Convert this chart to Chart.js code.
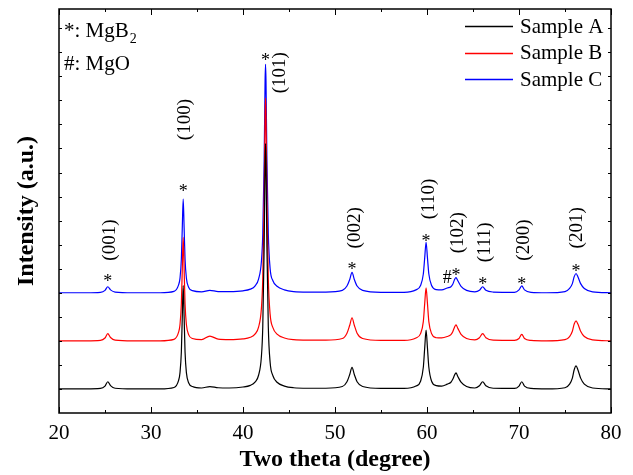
<!DOCTYPE html>
<html>
<head>
<meta charset="utf-8">
<script src="https://cdn.jsdelivr.net/npm/chart.js@4.4.1/dist/chart.umd.min.js"></script>
<style>
  html, body { margin: 0; padding: 0; background: #fff; }
  #wrap { width: 633px; height: 475px; }
</style>
</head>
<body>
<div id="wrap"><canvas id="c" width="633" height="475"></canvas></div>
<script>
// ---- data (2θ in degrees, intensity in arbitrary offset units) ----
const twoTheta = [
  20, 23, 24.5, 25.0, 25.3, 25.6, 26.1, 28,
  31, 32.5, 33.0, 33.15, 33.3, 33.4, 33.5, 33.6, 33.7, 33.85, 34.1, 34.5,
  35.5, 36.4, 37.3, 38.5,
  40, 40.8, 41.3, 41.7, 42.0, 42.15, 42.3, 42.4, 42.45, 42.5, 42.6, 42.75, 42.95, 43.25, 43.7, 44.5, 45.5,
  47, 49, 50.8, 51.3, 51.6, 51.85, 52.1, 52.4, 53, 55,
  57.5, 58.8, 59.3, 59.6, 59.75, 59.9, 60.05, 60.2, 60.5, 61,
  61.6, 62.2, 62.6, 62.8, 63.0, 63.15, 63.35, 63.7, 64.3,
  65.2, 65.7, 66.05, 66.4, 67.2,
  69.5, 70.0, 70.3, 70.6, 71.3,
  73, 75, 75.5, 75.8, 76.0, 76.2, 76.4, 76.7, 77.1, 78, 80
];
const sampleA = [
  1.0, 1.0, 1.02, 1.12, 1.30, 1.14, 1.03, 1.0,
  1.0, 1.06, 1.36, 1.67, 2.55, 4.0, 5.3, 4.0, 2.55, 1.67, 1.25, 1.1,
  1.04, 1.1, 1.05, 1.04,
  1.08, 1.15, 1.28, 1.58, 2.35, 3.6, 6.9, 10.4, 11.2, 10.4, 6.9, 3.6, 2.1, 1.55, 1.28, 1.12, 1.05,
  1.03, 1.03, 1.1, 1.3, 1.6, 1.9, 1.6, 1.3, 1.1, 1.02,
  1.02, 1.12, 1.32, 1.9, 2.7, 3.45, 2.7, 1.9, 1.32, 1.14,
  1.12, 1.2, 1.28, 1.4, 1.58, 1.67, 1.52, 1.28, 1.1,
  1.04, 1.13, 1.3, 1.13, 1.03,
  1.02, 1.12, 1.3, 1.12, 1.02,
  1.0, 1.05, 1.2, 1.45, 1.8, 1.96, 1.8, 1.45, 1.2, 1.04, 1.0
];
const sampleB = [
  3.0, 3.0, 3.02, 3.12, 3.30, 3.14, 3.03, 3.0,
  3.0, 3.06, 3.36, 3.67, 4.55, 6.0, 7.3, 6.0, 4.55, 3.67, 3.25, 3.1,
  3.05, 3.2, 3.07, 3.05,
  3.08, 3.15, 3.28, 3.58, 4.35, 5.6, 8.85, 12.35, 13.1, 12.35, 8.85, 5.6, 4.1, 3.55, 3.28, 3.12, 3.05,
  3.03, 3.03, 3.1, 3.32, 3.65, 3.96, 3.65, 3.32, 3.1, 3.02,
  3.02, 3.12, 3.3, 3.8, 4.55, 5.2, 4.55, 3.8, 3.3, 3.13,
  3.12, 3.18, 3.26, 3.38, 3.58, 3.67, 3.52, 3.27, 3.1,
  3.04, 3.13, 3.3, 3.13, 3.03,
  3.02, 3.1, 3.27, 3.1, 3.02,
  3.0, 3.05, 3.18, 3.4, 3.7, 3.83, 3.7, 3.4, 3.18, 3.04, 3.0
];
const sampleC = [
  5.0, 5.0, 5.02, 5.1, 5.25, 5.12, 5.03, 5.0,
  5.0, 5.06, 5.33, 5.6, 6.4, 7.7, 8.9, 7.7, 6.4, 5.6, 5.22, 5.09,
  5.04, 5.1, 5.05, 5.05,
  5.08, 5.15, 5.28, 5.58, 6.3, 7.45, 10.5, 13.8, 14.5, 13.8, 10.5, 7.45, 6.0, 5.5, 5.27, 5.12, 5.05,
  5.03, 5.03, 5.1, 5.28, 5.55, 5.85, 5.55, 5.28, 5.1, 5.02,
  5.02, 5.12, 5.3, 5.78, 6.45, 7.1, 6.45, 5.78, 5.3, 5.13,
  5.12, 5.2, 5.25, 5.35, 5.55, 5.63, 5.5, 5.27, 5.1,
  5.04, 5.1, 5.25, 5.1, 5.03,
  5.02, 5.12, 5.29, 5.12, 5.02,
  5.0, 5.05, 5.18, 5.38, 5.67, 5.8, 5.67, 5.38, 5.18, 5.04, 5.0
];
const seriesNames = ['Sample A', 'Sample B', 'Sample C'];
const seriesColors = ['#000000', '#ff0000', '#0000ff'];
const xTickLabels = ['20', '30', '40', '50', '60', '70', '80'];

// peak annotations (Miller indices, marker positions in data units)
const hklLabels = ['(001)', '(100)', '(101)', '(002)', '(110)', '(102)', '(111)', '(200)', '(201)'];
const hklX      = [25.55, 33.75, 44.0, 52.2, 60.2, 63.4, 66.3, 70.5, 76.3];
const hklY      = [7.19, 12.2, 14.15, 7.7, 8.9, 7.5, 7.1, 7.19, 7.7];
const starX     = [25.3, 33.5, 42.45, 51.85, 59.9, 63.15, 66.05, 70.3, 76.2];
const starY     = [5.6, 9.35, 14.8, 6.1, 7.27, 5.85, 5.48, 5.48, 6.0];
const hashX     = [62.2];
const hashY     = [5.6];

const SERIF = '"Liberation Serif", "Times New Roman", serif';

const datasets = [sampleA, sampleB, sampleC].map((vals, i) => ({
  label: seriesNames[i],
  data: twoTheta.map((t, k) => ({ x: t, y: vals[k] })),
  borderColor: seriesColors[i],
  borderWidth: 1.2,
  pointRadius: 0,
  fill: false,
  cubicInterpolationMode: 'monotone'
}));

const decor = {
  id: 'decor',
  afterDatasetsDraw(chart) {
    const ctx = chart.ctx;
    const xs = chart.scales.x, ys = chart.scales.y;
    const a = chart.chartArea;
    ctx.save();
    ctx.fillStyle = '#000';
    ctx.strokeStyle = '#000';

    // frame
    ctx.lineWidth = 1.5;
    ctx.strokeRect(a.left, a.top, a.right - a.left, a.bottom - a.top);

    // inward ticks
    ctx.lineWidth = 1;
    ctx.beginPath();
    for (let v = 20; v <= 80; v += 5) {
      const px = Math.round(xs.getPixelForValue(v)) + 0.5;
      const len = (v % 10 === 0) ? 6 : 3;
      ctx.moveTo(px, a.bottom); ctx.lineTo(px, a.bottom - len);
      ctx.moveTo(px, a.top); ctx.lineTo(px, a.top + len);
    }
    for (let v = 1; v <= 16; v += 1) {
      const py = Math.round(ys.getPixelForValue(v)) + 0.5;
      ctx.moveTo(a.left, py); ctx.lineTo(a.left + 3, py);
      ctx.moveTo(a.right, py); ctx.lineTo(a.right - 3, py);
    }
    ctx.stroke();

    // hkl labels (rotated)
    ctx.font = '19px ' + SERIF;
    ctx.textAlign = 'center';
    ctx.textBaseline = 'middle';
    hklLabels.forEach((t, i) => {
      ctx.save();
      ctx.translate(xs.getPixelForValue(hklX[i]), ys.getPixelForValue(hklY[i]));
      ctx.rotate(-Math.PI / 2);
      ctx.fillText(t, 0, 0);
      ctx.restore();
    });
    // phase markers
    ctx.font = '18px ' + SERIF;
    starX.forEach((x, i) => {
      ctx.fillText('*', xs.getPixelForValue(x), ys.getPixelForValue(starY[i]) + 4);
    });
    hashX.forEach((x, i) => {
      ctx.fillText('#', xs.getPixelForValue(x), ys.getPixelForValue(hashY[i]));
    });

    // phase key (top-left)
    ctx.textAlign = 'left';
    ctx.textBaseline = 'alphabetic';
    ctx.font = '21px ' + SERIF;
    const kx = a.left + 5;
    ctx.fillText('*: MgB', kx, a.top + 28);
    const w = ctx.measureText('*: MgB').width;
    ctx.font = '14px ' + SERIF;
    ctx.fillText('2', kx + w + 1, a.top + 34);
    ctx.font = '21px ' + SERIF;
    ctx.fillText('#: MgO', kx, a.top + 61);

    // series legend (top-right)
    ctx.textBaseline = 'middle';
    seriesNames.forEach((name, i) => {
      const y = a.top + 17 + i * 26.5;
      ctx.strokeStyle = seriesColors[i];
      ctx.lineWidth = 1.3;
      ctx.beginPath();
      ctx.moveTo(465, Math.round(y) + 0.5); ctx.lineTo(513, Math.round(y) + 0.5);
      ctx.stroke();
      ctx.fillStyle = '#000';
      ctx.font = '21px ' + SERIF;
      ctx.fillText(name, 520, y + 1);
    });
    ctx.restore();
  }
};

new Chart(document.getElementById('c'), {
  type: 'line',
  data: { datasets },
  options: {
    responsive: false,
    devicePixelRatio: 1,
    animation: false,
    layout: { padding: { top: 9, right: 22, left: 0, bottom: 0 } },
    plugins: { legend: { display: false }, tooltip: { enabled: false } },
    scales: {
      x: {
        type: 'linear',
        min: 20, max: 80,
        grid: { display: false, drawTicks: false },
        border: { display: false },
        ticks: {
          stepSize: 10,
          padding: 8,
          color: '#000',
          font: { family: SERIF, size: 21 },
          maxRotation: 0,
          callback: (v) => xTickLabels.includes(String(v)) ? String(v) : ''
        },
        title: {
          display: true,
          text: 'Two theta (degree)',
          color: '#000',
          font: { family: SERIF, size: 24, weight: 'bold' },
          padding: { top: 0, bottom: 1 }
        },
        afterFit: (s) => { s.height = 62; }
      },
      y: {
        type: 'linear',
        min: 0, max: 16.8,
        grid: { display: false, drawTicks: false },
        border: { display: false },
        ticks: { display: false, stepSize: 1 },
        title: {
          display: true,
          text: 'Intensity (a.u.)',
          color: '#000',
          font: { family: SERIF, size: 24, weight: 'bold' },
          padding: { top: 12, bottom: 0 }
        },
        afterFit: (s) => { s.width = 59; }
      }
    }
  },
  plugins: [decor]
});
</script>
</body>
</html>
